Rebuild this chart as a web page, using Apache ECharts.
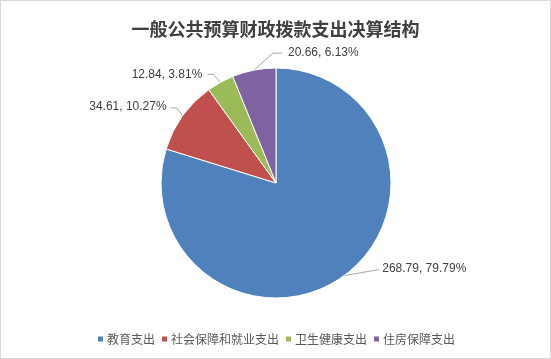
<!DOCTYPE html>
<html>
<head>
<meta charset="utf-8">
<script src="https://cdn.jsdelivr.net/npm/echarts@6/dist/echarts.min.js"></script>
<style>
html,body{margin:0;padding:0;background:#fff;}
#c{width:551px;height:359px;box-sizing:border-box;border:1px solid #d9d9d9;}
</style>
</head>
<body>
<div id="c"></div>
<script>
const titleText = '一般公共预算财政拨款支出决算结构';
const categories = ['教育支出', '社会保障和就业支出', '卫生健康支出', '住房保障支出'];
const values = [268.79, 34.61, 12.84, 20.66];
const percents = ['79.79%', '10.27%', '3.81%', '6.13%'];
const colors = ['#4F81BD', '#C0504D', '#9BBB59', '#8064A2'];

// label placement relative to the slice edge point: [dx, dy, align, bendDx, bendDy, endDx]
const labelPlace = [
  [38, -7, 'left', 35, -6, 35],
  [-16, -9, 'right', -6, -8, -12],
  [-18, -8, 'right', -7, -8, -13],
  [34, -17, 'left', 19, -17, 28]
];

const chart = echarts.init(document.getElementById('c'), null, {renderer: 'canvas'});
chart.setOption({
  animation: false,
  color: colors,
  title: {
    text: titleText,
    left: 'center',
    top: 19,
    padding: 0,
    textStyle: {fontFamily: 'Noto Sans CJK SC', fontSize: 18, fontWeight: 'bold', color: '#404040'}
  },
  legend: {
    bottom: 8,
    left: 'center',
    icon: 'rect',
    itemWidth: 7,
    itemHeight: 7,
    itemGap: 5,
    textStyle: {fontFamily: 'Noto Sans CJK SC', fontSize: 12, color: '#595959', padding: [0, 0, 0, -2]},
    data: categories
  },
  series: [{
    type: 'pie',
    center: [275, 182],
    radius: 115,
    startAngle: 90,
    clockwise: true,
    itemStyle: {borderColor: '#fff', borderWidth: 1},
    label: {
      show: true,
      position: 'outside',
      fontFamily: 'Liberation Sans',
      fontSize: 12,
      color: '#404040',
      formatter: p => p.value + ', ' + percents[p.dataIndex]
    },
    labelLine: {show: true, length: 5, length2: 20, lineStyle: {color: '#a6a6a6', width: 1}},
    labelLayout: function (params) {
      const pts = params.labelLinePoints;
      if (!pts) return {};
      const e = pts[0];
      const p = labelPlace[params.dataIndex];
      return {
        x: e[0] + p[0],
        y: e[1] + p[1],
        align: p[2],
        verticalAlign: 'middle',
        labelLinePoints: [[e[0], e[1]], [e[0] + p[3], e[1] + p[4]], [e[0] + p[5], e[1] + p[4]]]
      };
    },
    data: categories.map((n, i) => ({name: n, value: values[i]}))
  }]
});
</script>
</body>
</html>
